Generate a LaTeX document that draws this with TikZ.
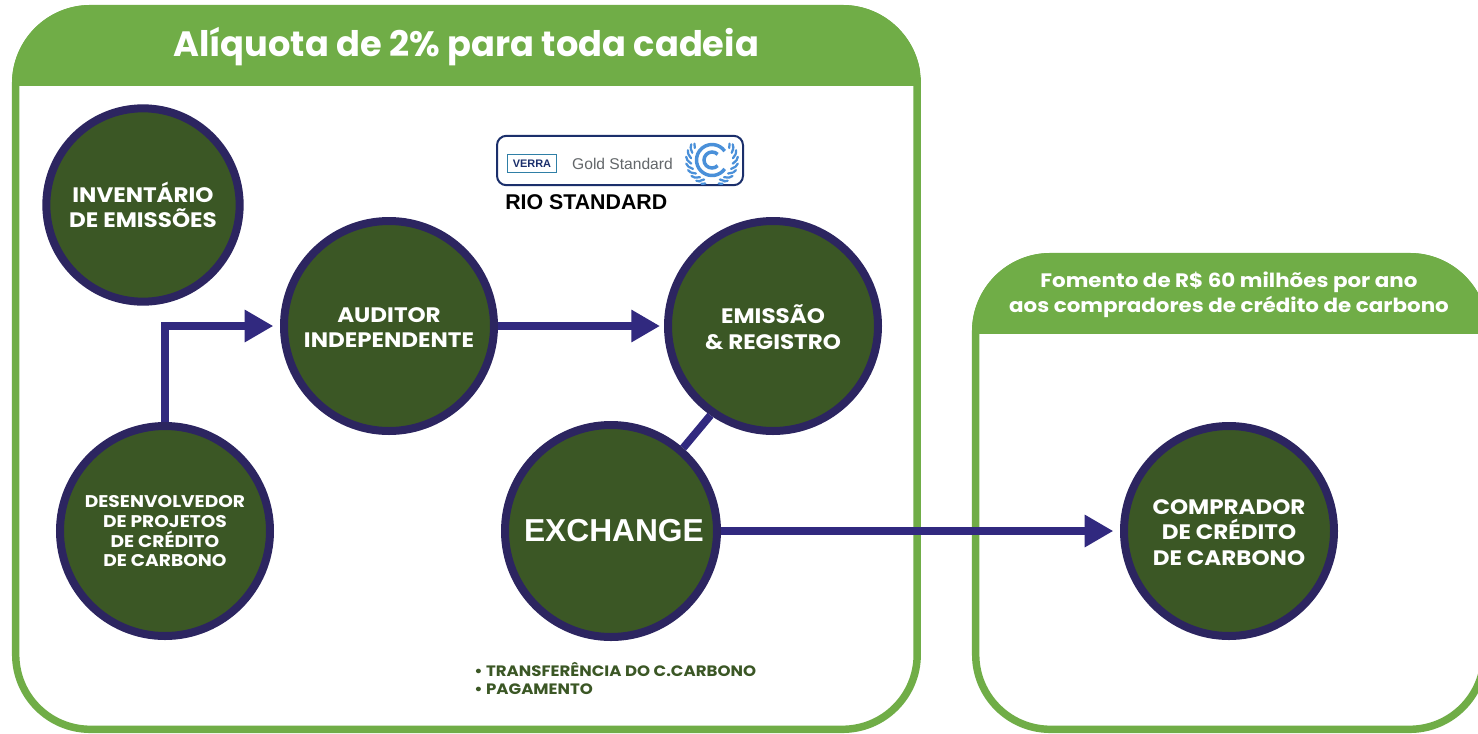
\documentclass[tikz,border=0pt]{standalone}
\usepackage{fontspec}
\setmainfont{Poppins}
\newfontfamily\widefont[FakeStretch=1.1]{Poppins}
\newfontfamily\arialfont{Liberation Sans}
\usetikzlibrary{arrows.meta,calc}
\definecolor{panelgreen}{HTML}{70AD47}
\definecolor{circgreen}{HTML}{3B5725}
\definecolor{ringblue}{HTML}{2C2560}
\definecolor{arrowblue}{HTML}{31297F}
\definecolor{logoblue}{HTML}{4A90D9}
\definecolor{logonavy}{HTML}{1B2F6B}
\definecolor{verrateal}{HTML}{2F7FA6}
\definecolor{goldgrey}{HTML}{63676A}
\tikzset{
  x=0.75pt,y=-0.75pt,
  disc/.style={circle,draw=ringblue,fill=circgreen,line width=6pt,inner sep=0pt,minimum size=157.5pt},
  disctext/.style={text=white,font=\widefont\bfseries\fontsize{15.7}{19.2}\selectfont,align=center,inner sep=0pt},
  flow/.style={draw=arrowblue,line width=5.6pt,-{Triangle[length=21.5pt,width=23pt]},shorten >=5pt},
  link/.style={draw=arrowblue,line width=5.8pt},
  paneltitle/.style={text=white,align=center,inner sep=0pt},
  note/.style={text=circgreen,font=\widefont\bfseries\fontsize{11.3}{14}\selectfont,inner sep=0pt,anchor=west},
  leaf/.style={draw=logoblue,line width=1.7pt,line cap=round},
  frame/.style={draw=panelgreen,line width=5.6pt,rounded corners=56pt},
}
\begin{document}
\begin{tikzpicture}
\useasboundingbox (0,0) rectangle (1478,733);
\fill[white] (0,0) rectangle (1478,733);
\begin{scope}
\clip (0,0) rectangle (1478,733);
% left panel
\begin{scope}
\clip[rounded corners=58.8pt] (12,5) rectangle (921,733);
\fill[panelgreen] (12,5) rectangle (921,86);
\end{scope}
\draw[frame] (15.7,8.7) rectangle (917.2,729.3);
% right panel
\begin{scope}
\clip[rounded corners=58.8pt] (972,253) rectangle (1488,733);
\fill[panelgreen] (972,253) rectangle (1488,334);
\end{scope}
\draw[frame] (975.7,256.7) rectangle (1484.3,729.3);
\end{scope}
\node[paneltitle,font=\bfseries\fontsize{26.4}{30}\selectfont] (title) at (466,47) {Alíquota de 2\% para toda cadeia};
\node[paneltitle,font=\widefont\bfseries\fontsize{14.6}{19}\selectfont] (subtitle) at (1229,295) {Fomento de R\$ 60 milhões por ano\\aos compradores de crédito de carbono};
% circles
\node[disc,minimum size=145pt,label={[disctext]center:{INVENTÁRIO\\DE EMISSÕES}}] (inv) at (143,205) {};
\node[disc,label={[disctext,yshift=-1.1pt]center:{AUDITOR\\INDEPENDENTE}}] (aud) at (389,326) {};
\node[disc,label={[disctext,yshift=-1.1pt]center:{EMISSÃO\\\& REGISTRO}}] (emi) at (773,326) {};
\node[disc,label={[disctext,yshift=-0.3pt,font=\widefont\bfseries\fontsize{12.7}{14.7}\selectfont]center:{DESENVOLVEDOR\\DE PROJETOS\\DE CRÉDITO\\DE CARBONO}}] (dev) at (165,531) {};
\node[disc,minimum size=159pt,label={[disctext,xshift=2.2pt,font=\arialfont\bfseries\fontsize{23.8}{28}\selectfont]center:{EXCHANGE}}] (exc) at (611,531) {};
\node[disc,label={[disctext,yshift=-1.1pt]center:{COMPRADOR\\DE CRÉDITO\\DE CARBONO}}] (com) at (1229,531) {};
% connectors
\draw[flow] (dev.north) -- (dev.north |- aud.west) -- (aud.west);
\draw[flow,shorten >=3pt] (aud.east) -- (emi.west);
\draw[link] (exc.49) -- (emi.235.5);
\draw[flow] (exc.east) -- (com.west);
% standards logos
\node[draw=logonavy,line width=1.5pt,rounded corners=7pt,minimum width=184.5pt,minimum height=37pt,inner sep=0pt] (std) at (620,160.5) {};
\node[draw=verrateal,line width=1.2pt,minimum width=36.5pt,minimum height=13.5pt,inner sep=0pt,text=logonavy,font=\arialfont\bfseries\fontsize{8.2}{10}\selectfont] (verra) at (532,163.5) {VERRA};
\node[inner sep=0pt,text=goldgrey,font=\arialfont\fontsize{11.7}{12}\selectfont] (gold) at (622.5,164) {Gold Standard};
\coordinate (un) at (712,160);
\draw[logoblue,line width=2.6pt] ($(un)+(35:15.5)$) arc (35:325:15.5);
\draw[logoblue,line width=2.6pt] ($(un)+(45:8)$) arc (45:315:8);
\foreach \a in {-35,-20,-5,10,25,40,55,68}{
  \draw[leaf] ($(un)+(\a:21)$) -- ($(un)+(\a-8:24)$);
  \draw[leaf] ($(un)+(\a+6:24.5)$) -- ($(un)+(\a-2:26)$);
  \draw[leaf] ($(un)+(180-\a:21)$) -- ($(un)+(188-\a:24)$);
  \draw[leaf] ($(un)+(174-\a:24.5)$) -- ($(un)+(182-\a:26)$);
}
\node[inner sep=0pt,anchor=west,font=\arialfont\bfseries\fontsize{16}{18}\selectfont] (rio) at (505,202) {RIO STANDARD};
\node[note] (n1) at (474,669.5) {• TRANSFERÊNCIA DO C.CARBONO};
\node[note] (n2) at (474,689) {• PAGAMENTO};
\end{tikzpicture}
\end{document}
